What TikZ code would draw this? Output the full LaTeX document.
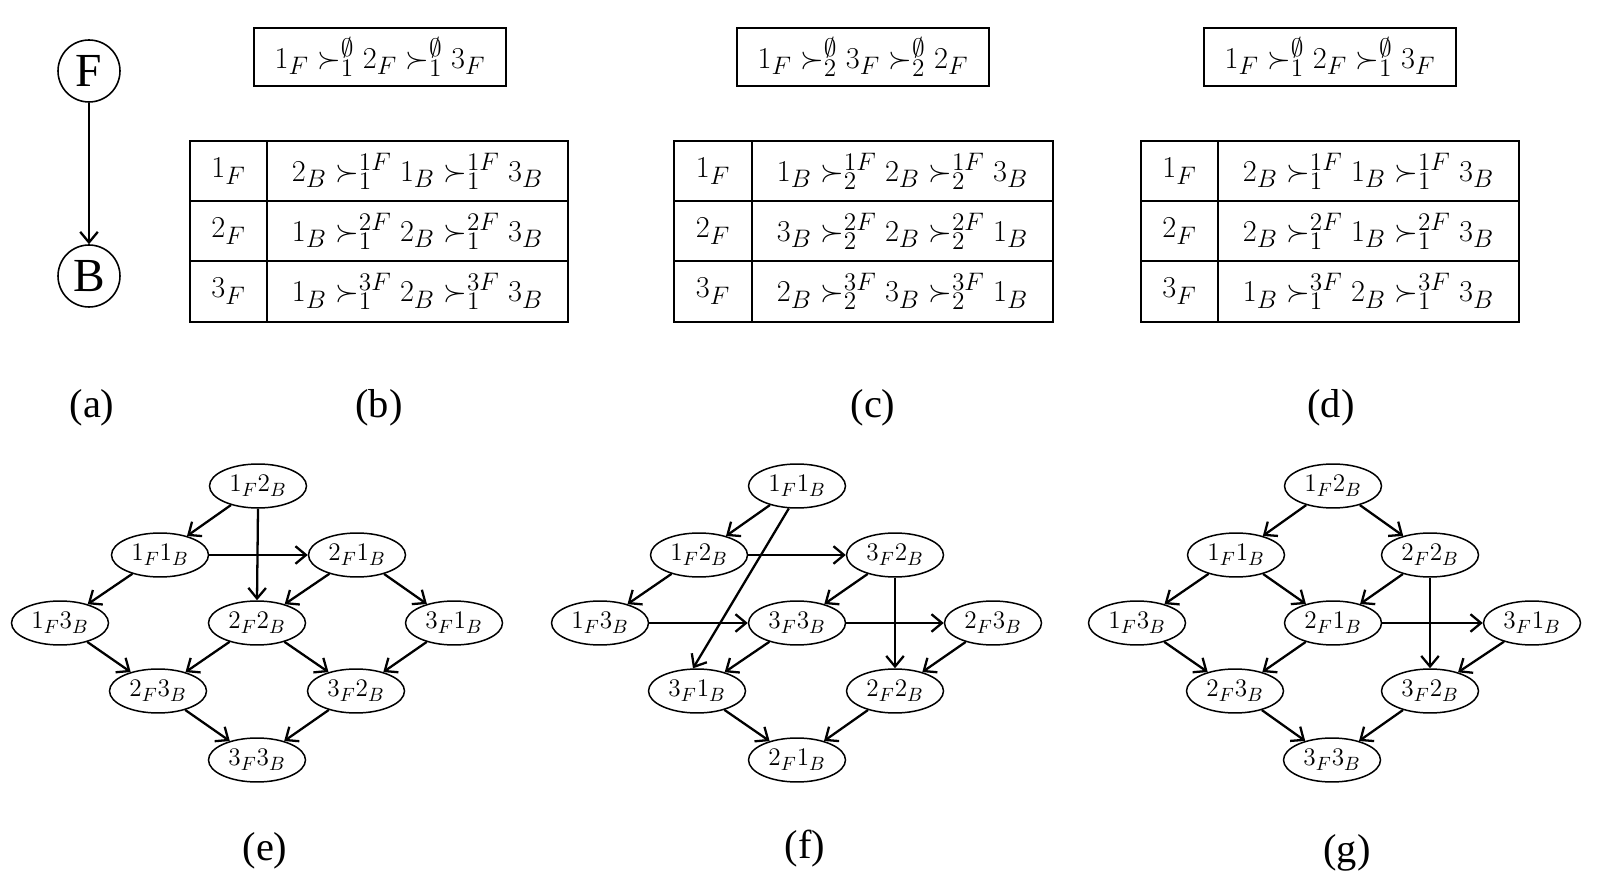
\documentclass[tikz,border=0pt]{standalone}
\usepackage{fontspec}
\newfontfamily\lab{Liberation Serif}
\usetikzlibrary{shapes.geometric,arrows.meta}
\tikzset{
  st/.style={draw, ellipse, minimum width=1.94cm, minimum height=0.88cm, inner sep=0pt, line width=0.85pt, font=\fontsize{15.5}{18}\selectfont},
  arr/.style={-{Straight Barb[length=6pt,width=10pt]}, line width=1.3pt},
  tbl/.style={line width=1.1pt},
  lbl/.style={font=\lab\fontsize{23}{26}\selectfont, inner sep=0pt},
  cell/.style={font=\fontsize{19}{23}\selectfont, inner sep=0pt},
  circ/.style={draw, circle, minimum size=1.24cm, inner sep=0pt, line width=0.9pt, font=\lab\fontsize{27}{30}\selectfont},
  topbox/.style={draw, line width=1.1pt, minimum width=5.04cm, minimum height=1.16cm, inner sep=0pt, font=\fontsize{19}{23}\selectfont}
}
\begin{document}
\begin{tikzpicture}[x=0.02cm, y=-0.02cm]
\useasboundingbox (0,0) rectangle (1608,884);
% (a)
\node[circ] (F) at (89,71) {F};
\node[circ] (B) at (89,276) {B};
\draw[arr] (F) -- (B);
% top boxes
\node[topbox] (pb) at (380,57) {$1_F \succ_1^{\emptyset} 2_F \succ_1^{\emptyset} 3_F$};
\node[topbox] (pc) at (863,57) {$1_F \succ_2^{\emptyset} 3_F \succ_2^{\emptyset} 2_F$};
\node[topbox] (pd) at (1330,57) {$1_F \succ_1^{\emptyset} 2_F \succ_1^{\emptyset} 3_F$};
% table (b)
\draw[tbl] (190,141) rectangle (568,322);
\draw[tbl] (267,141) -- (267,322) (190,201) -- (568,201) (190,261) -- (568,261);
\node[cell] (b1l) at (228.5,171) {$1_F$};
\node[cell] (b2l) at (228.5,231) {$2_F$};
\node[cell] (b3l) at (228.5,291.5) {$3_F$};
\node[cell] (b1r) at (417.5,171) {$2_B \succ_1^{1F} 1_B \succ_1^{1F} 3_B$};
\node[cell] (b2r) at (417.5,231) {$1_B \succ_1^{2F} 2_B \succ_1^{2F} 3_B$};
\node[cell] (b3r) at (417.5,291.5) {$1_B \succ_1^{3F} 2_B \succ_1^{3F} 3_B$};
% table (c)
\draw[tbl] (674,141) rectangle (1053,322);
\draw[tbl] (752,141) -- (752,322) (674,201) -- (1053,201) (674,261) -- (1053,261);
\node[cell] (c1l) at (713,171) {$1_F$};
\node[cell] (c2l) at (713,231) {$2_F$};
\node[cell] (c3l) at (713,291.5) {$3_F$};
\node[cell] (c1r) at (902.5,171) {$1_B \succ_2^{1F} 2_B \succ_2^{1F} 3_B$};
\node[cell] (c2r) at (902.5,231) {$3_B \succ_2^{2F} 2_B \succ_2^{2F} 1_B$};
\node[cell] (c3r) at (902.5,291.5) {$2_B \succ_2^{3F} 3_B \succ_2^{3F} 1_B$};
% table (d)
\draw[tbl] (1141,141) rectangle (1519,322);
\draw[tbl] (1218,141) -- (1218,322) (1141,201) -- (1519,201) (1141,261) -- (1519,261);
\node[cell] (d1l) at (1179.5,171) {$1_F$};
\node[cell] (d2l) at (1179.5,231) {$2_F$};
\node[cell] (d3l) at (1179.5,291.5) {$3_F$};
\node[cell] (d1r) at (1368.5,171) {$2_B \succ_1^{1F} 1_B \succ_1^{1F} 3_B$};
\node[cell] (d2r) at (1368.5,231) {$2_B \succ_1^{2F} 1_B \succ_1^{2F} 3_B$};
\node[cell] (d3r) at (1368.5,291.5) {$1_B \succ_1^{3F} 2_B \succ_1^{3F} 3_B$};
% labels
\node[lbl] (la) at (92,408) {(a)};
\node[lbl] (lb) at (379,408) {(b)};
\node[lbl] (lc) at (873,408) {(c)};
\node[lbl] (ld) at (1331,408) {(d)};
\node[lbl] (le) at (265,851) {(e)};
\node[lbl] (lf) at (805,849) {(f)};
\node[lbl] (lg) at (1347,853) {(g)};
% graph (e)
\node[st] (e12) at (258,486) {$1_F2_B$};
\node[st] (e11) at (160,555) {$1_F1_B$};
\node[st] (e21) at (357,555) {$2_F1_B$};
\node[st] (e13) at (60,623) {$1_F3_B$};
\node[st] (e22) at (257,623) {$2_F2_B$};
\node[st] (e31) at (454,623) {$3_F1_B$};
\node[st] (e23) at (158,691) {$2_F3_B$};
\node[st] (e32) at (356,691) {$3_F2_B$};
\node[st] (e33) at (257,760) {$3_F3_B$};
\draw[arr] (e12) -- (e11);
\draw[arr] (e12.south) -- (e22.north);
\draw[arr] (e11) -- (e21);
\draw[arr] (e11) -- (e13);
\draw[arr] (e21) -- (e22);
\draw[arr] (e21) -- (e31);
\draw[arr] (e13) -- (e23);
\draw[arr] (e22) -- (e23);
\draw[arr] (e22) -- (e32);
\draw[arr] (e31) -- (e32);
\draw[arr] (e23) -- (e33);
\draw[arr] (e32) -- (e33);
% graph (f)
\node[st] (f11) at (797,486) {$1_F1_B$};
\node[st] (f12) at (699,555) {$1_F2_B$};
\node[st] (f32) at (895,555) {$3_F2_B$};
\node[st] (f13) at (600,623) {$1_F3_B$};
\node[st] (f33) at (797,623) {$3_F3_B$};
\node[st] (f23) at (993,623) {$2_F3_B$};
\node[st] (f31) at (697,691) {$3_F1_B$};
\node[st] (f22) at (895,691) {$2_F2_B$};
\node[st] (f21) at (797,760) {$2_F1_B$};
\draw[arr] (f11) -- (f12);
\draw[arr] (f11.250) -- (f31.100);
\draw[arr] (f12) -- (f32);
\draw[arr] (f12) -- (f13);
\draw[arr] (f32) -- (f33);
\draw[arr] (f32.south) -- (f22.north);
\draw[arr] (f13) -- (f33);
\draw[arr] (f33) -- (f23);
\draw[arr] (f33) -- (f31);
\draw[arr] (f23) -- (f22);
\draw[arr] (f31) -- (f21);
\draw[arr] (f22) -- (f21);
% graph (g)
\node[st] (g12) at (1333,486) {$1_F2_B$};
\node[st] (g11) at (1236,555) {$1_F1_B$};
\node[st] (g22) at (1430,555) {$2_F2_B$};
\node[st] (g13) at (1137,623) {$1_F3_B$};
\node[st] (g21) at (1333,623) {$2_F1_B$};
\node[st] (g31) at (1532,623) {$3_F1_B$};
\node[st] (g23) at (1235,691) {$2_F3_B$};
\node[st] (g32) at (1430,691) {$3_F2_B$};
\node[st] (g33) at (1332,760) {$3_F3_B$};
\draw[arr] (g12) -- (g11);
\draw[arr] (g12) -- (g22);
\draw[arr] (g11) -- (g13);
\draw[arr] (g11) -- (g21);
\draw[arr] (g22) -- (g21);
\draw[arr] (g22.south) -- (g32.north);
\draw[arr] (g21) -- (g31);
\draw[arr] (g13) -- (g23);
\draw[arr] (g21) -- (g23);
\draw[arr] (g31) -- (g32);
\draw[arr] (g23) -- (g33);
\draw[arr] (g32) -- (g33);
\end{tikzpicture}
\end{document}
